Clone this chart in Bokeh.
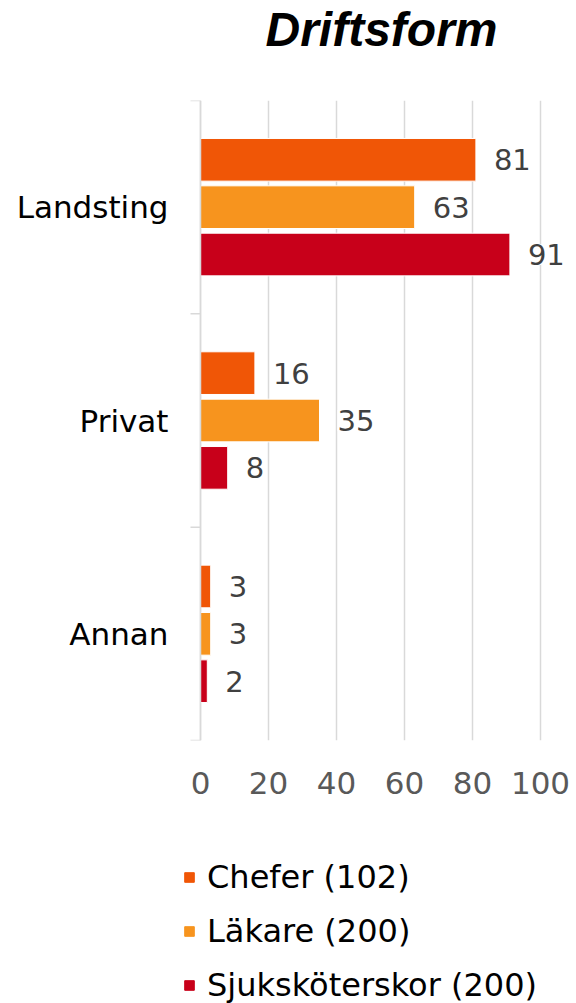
import math
from bokeh.plotting import figure
from bokeh.layouts import column
from bokeh.models import (Range1d, FixedTicker, ColumnDataSource, Legend, LegendItem, Span)
from bokeh.core.properties import value
from bokeh.embed import file_html
from bokeh.resources import INLINE

# ---- data ----
categories = ["Landsting", "Privat", "Annan"]
series_names = ["Chefer (102)", "Läkare (200)", "Sjuksköterskor (200)"]
chefer = [81, 16, 3]
lakare = [63, 35, 3]
sjukskoterskor = [91, 8, 2]
x_ticks = [0, 20, 40, 60, 80, 100]
title_text = "Driftsform"

# ---- styles / layout ----
colors = ["#F05606", "#F7941E", "#C8001A"]
offsets = [0.222, 0.0, -0.222]
bar_h = 0.2
FONT = "DejaVu Sans"
W = 576
PX_PER_UNIT = 3.4          # horizontal scale of the value axis
LEFT_PX = 200              # pixel position of value 0
x_range = Range1d(-LEFT_PX / PX_PER_UNIT, (W - LEFT_PX) / PX_PER_UNIT)

ncat = len(categories)
centers = [ncat - i - 0.5 for i in range(ncat)]

# ---- title strip ----
head = figure(width=W, height=100, output_backend="svg", toolbar_location=None,
              x_range=x_range, y_range=Range1d(100, 0),
              x_axis_type=None, y_axis_type=None,
              min_border_left=0, min_border_right=0, min_border_top=0, min_border_bottom=0)
head.outline_line_color = None
head.xgrid.grid_line_color = None
head.ygrid.grid_line_color = None
head.text(x=[(x_ticks[0] + x_ticks[-1]) / 2], y=[29], text=[title_text], x_offset=11,
          text_align="center", text_baseline="middle",
          text_font=value("Liberation Sans"), text_font_style="bold italic",
          text_font_size="48px", text_color="black")

# ---- main chart ----
p = figure(width=W, height=720, output_backend="svg", toolbar_location=None,
           x_range=x_range, y_range=Range1d(0, ncat), y_axis_type=None,
           min_border_left=0, min_border_right=0, min_border_top=0,
           min_border_bottom=80)
p.outline_line_color = None
p.background_fill_color = "white"
p.border_fill_color = "white"

for vals, name, col, off in zip([chefer, lakare, sjukskoterskor], series_names, colors, offsets):
    ys = [c + off for c in centers]
    src = ColumnDataSource(dict(y=ys, v=vals, lab=[str(v) for v in vals]))
    p.hbar(y="y", right="v", left=0, height=bar_h, source=src,
           fill_color=col, line_color="white", line_width=1)
    p.text(x="v", y="y", text="lab", source=src, x_offset=18,
           text_align="left", text_baseline="middle",
           text_font=value(FONT), text_font_size="29px", text_color="#404040",
           background_fill_color="white")

# category axis: line, boundary ticks and labels
p.add_layout(Span(location=0, dimension="height", line_color="#d9d9d9", line_width=1.5))
p.ray(x=[0] * (ncat + 1), y=list(range(ncat + 1)), length=10, length_units="screen",
      angle=math.pi, line_color="#d9d9d9", line_width=1.5)
p.text(x=[0] * ncat, y=centers, text=categories, x_offset=-32,
       text_align="right", text_baseline="middle",
       text_font=value(FONT), text_font_size="31px", text_color="black")

# value axis
xa = p.xaxis[0]
xa.ticker = FixedTicker(ticks=x_ticks)
xa.axis_line_color = None
xa.major_tick_line_color = None
xa.minor_tick_line_color = None
xa.major_label_text_font = FONT
xa.major_label_text_font_size = "31px"
xa.major_label_text_color = "#595959"
xa.major_label_standoff = 25

p.xgrid.ticker = FixedTicker(ticks=x_ticks)
p.xgrid.grid_line_color = "#d9d9d9"
p.xgrid.grid_line_width = 1.5
p.ygrid.grid_line_color = None

# ---- legend strip ----
lg = figure(width=W, height=183, output_backend="svg", toolbar_location=None,
            x_range=Range1d(0, 1), y_range=Range1d(0, 1),
            x_axis_type=None, y_axis_type=None,
            min_border_left=0, min_border_right=0, min_border_top=0, min_border_bottom=0)
lg.outline_line_color = None
lg.xgrid.grid_line_color = None
lg.ygrid.grid_line_color = None
items = []
for name, col in zip(series_names, colors):
    # swatch renderers kept outside the visible range; only their legend entries show
    r = lg.hbar(y=[-5], right=[0.1], left=0, height=0.1, fill_color=col, line_color=col)
    items.append(LegendItem(label=name, renderers=[r]))
legend = Legend(items=items, location=(183, -1), orientation="vertical",
                label_text_font=FONT, label_text_font_size="32px",
                label_text_color="black", glyph_width=12, glyph_height=12,
                label_standoff=12, label_height=37, spacing=16,
                padding=0, margin=0, border_line_color=None,
                background_fill_alpha=0)
lg.add_layout(legend, "center")

layout = column(head, p, lg, spacing=0)
open("out.html", "w").write(file_html(layout, INLINE))
